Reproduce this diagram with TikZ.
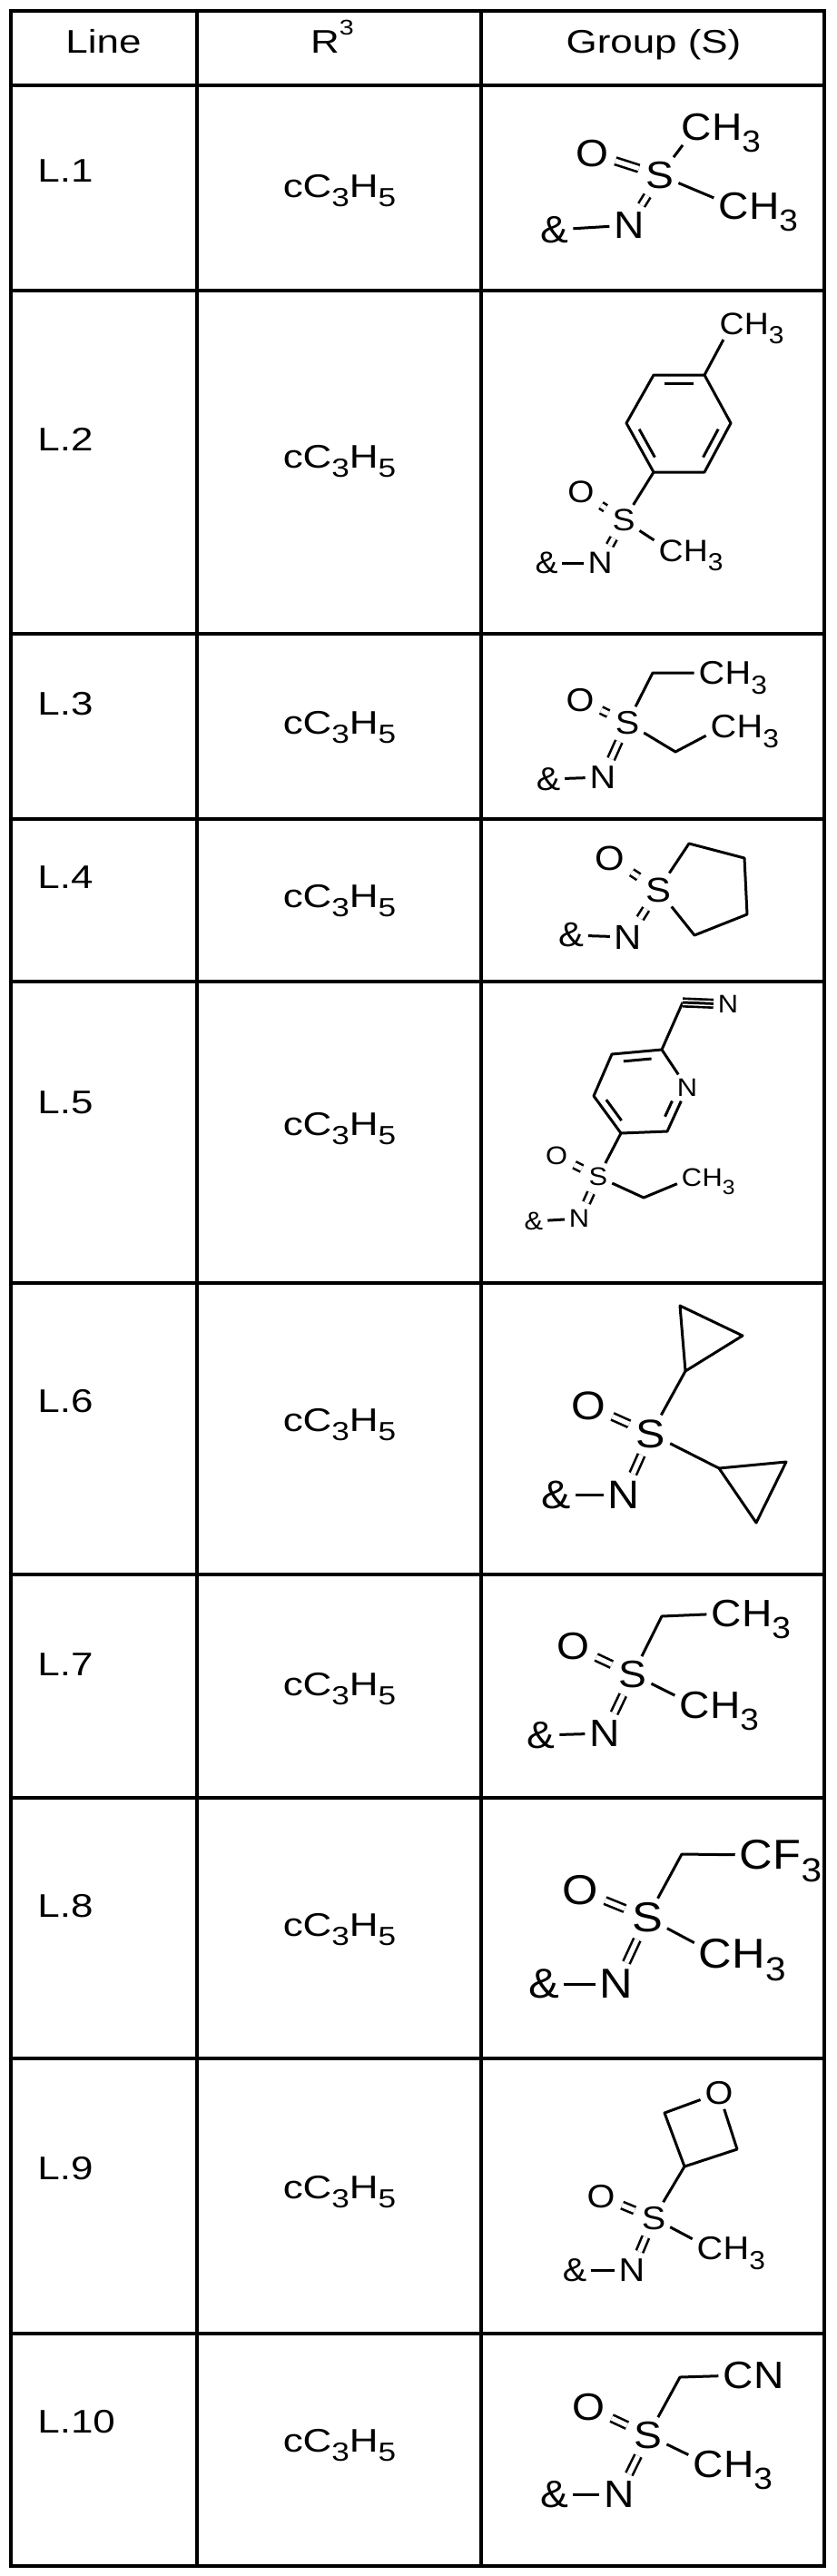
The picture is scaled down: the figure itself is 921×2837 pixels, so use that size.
\documentclass[tikz,border=0pt]{standalone}
\usepackage{fontspec}
\setmainfont{Liberation Sans}
\usetikzlibrary{calc}
\newcommand\cf[1]{\fontsize{#1}{#1}\selectfont}
\newcommand\wx[1]{\scalebox{1.1}[1]{#1}}
\newcommand\wt[1]{\scalebox{1.22}[1]{#1}}
\newcommand\sbs[1]{\raisebox{-0.3em}{\scalebox{0.8}{#1}}}
\newcommand\sps[1]{\raisebox{0.55em}{\scalebox{0.65}{#1}}}
\tikzset{
  grid/.style={line width=1.7pt},
  tab/.style={font=\cf{18}, inner sep=0pt, anchor=base},
  atm/.style={inner sep=2.5pt, outer sep=0pt},
  sfx/.style={anchor=base west, inner sep=0pt},
  bd/.style={line width=1.5pt},
  dbl/.style={double, double distance=2.6pt, line width=1.3pt, shorten <=1.5pt, shorten >=1.5pt},
}
\begin{document}
\begin{tikzpicture}[x=0.5pt,y=-0.5pt]
\useasboundingbox (0,0) rectangle (921,2837);
% grid
\coordinate (tl) at (12,12); \coordinate (br) at (908,2826);
\draw[grid] (tl) rectangle (br);
\foreach \y in {94,320,698,902,1081,1413,1734,1980,2267,2570} \draw[grid] (12,\y) -- (908,\y);
\draw[grid] (217,12) -- (217,2826);
\draw[grid] (530,12) -- (530,2826);
% header
\node[tab] (h1) at (114,58) {\wt{Line}};
\node[tab] (h2) at (366,58) {\wt{R\sps{3}}};
\node[tab] (h3) at (720,58) {\wt{Group (S)}};
% labels
\foreach \n/\yb/\yc in {1/200/217,2/496/515,3/787/808,4/978/999,5/1226/1250,6/1555/1576,7/1845/1867,8/2111/2132,9/2400/2421,10/2679/2700}{
  \node[tab,anchor=base west] (l\n) at (41,\yb) {\wt{L.\n}};
  \node[tab] (r\n) at (374,\yc) {\wt{cC\sbs{3}H\sbs{5}}};
}
% ---------- L.1
\begin{scope}[every node/.append style={font=\cf{21}}]
\node[atm] (o1) at (652,169) {\wx{O}};
\node[atm] (s1) at (727,193) {\wx{S}};
\node[atm] (n1) at (693,248) {\wx{N}};
\node[atm] (a1) at (611,253) {\wx{\&}};
\node[atm] (c1a) at (767,140) {\wx{C}};
\node[sfx] (h1a) at ([xshift=-2.5pt]c1a.base east) {\wx{H\sbs{3}}};
\node[atm] (c1b) at (808,227) {\wx{C}};
\node[sfx] (h1b) at ([xshift=-2.5pt]c1b.base east) {\wx{H\sbs{3}}};
\draw[bd] (a1) -- (n1);
\draw[dbl] (o1) -- (s1);
\draw[dbl] (s1) -- (n1);
\draw[bd] (s1) -- (c1a);
\draw[bd] (s1) -- (c1b);
\end{scope}
% ---------- L.2
\begin{scope}[every node/.append style={font=\cf{17}}]
\coordinate (q1) at (776,413); \coordinate (q2) at (720,413); \coordinate (q3) at (690,466);
\coordinate (q4) at (720,520); \coordinate (q5) at (776,520); \coordinate (q6) at (805,466);
\coordinate (qc) at (748,466);
\draw[bd,line join=round] (q1) -- (q2) -- (q3) -- (q4) -- (q5) -- (q6) -- cycle;
\draw[bd] ($(q2)!0.15!(q1)!0.18!(qc)$) -- ($(q1)!0.15!(q2)!0.18!(qc)$);
\draw[bd] ($(q3)!0.15!(q4)!0.18!(qc)$) -- ($(q4)!0.15!(q3)!0.18!(qc)$);
\draw[bd] ($(q6)!0.15!(q5)!0.18!(qc)$) -- ($(q5)!0.15!(q6)!0.18!(qc)$);
\node[atm] (c2a) at (806,357) {\wx{C}};
\node[sfx] (h2a) at ([xshift=-2.5pt]c2a.base east) {\wx{H\sbs{3}}};
\draw[bd] (q1) -- (c2a);
\node[atm] (s2) at (687,573) {\wx{S}};
\node[atm] (o2) at (640,542) {\wx{O}};
\node[atm] (n2) at (661,620) {\wx{N}};
\node[atm] (a2) at (602,620) {\wx{\&}};
\node[atm] (c2b) at (739,607) {\wx{C}};
\node[sfx] (h2b) at ([xshift=-2.5pt]c2b.base east) {\wx{H\sbs{3}}};
\draw[bd] (q4) -- (s2);
\draw[bd] (a2) -- (n2);
\draw[dbl] (o2) -- (s2);
\draw[dbl] (s2) -- (n2);
\draw[bd] (s2) -- (c2b);
\end{scope}
% ---------- L.3
\begin{scope}[every node/.append style={font=\cf{18}}]
\node[atm] (o3) at (639,771) {\wx{O}};
\node[atm] (s3) at (691,796) {\wx{S}};
\node[atm] (n3) at (664,856) {\wx{N}};
\node[atm] (a3) at (604,858) {\wx{\&}};
\coordinate (k3a) at (719,741);
\coordinate (k3b) at (744,828);
\node[atm] (c3a) at (784,741) {\wx{C}};
\node[sfx] (h3a) at ([xshift=-2.5pt]c3a.base east) {\wx{H\sbs{3}}};
\node[atm] (c3b) at (797,800) {\wx{C}};
\node[sfx] (h3b) at ([xshift=-2.5pt]c3b.base east) {\wx{H\sbs{3}}};
\draw[bd] (a3) -- (n3);
\draw[dbl] (o3) -- (s3);
\draw[dbl] (s3) -- (n3);
\draw[bd,line join=round] (s3) -- (k3a) -- (c3a);
\draw[bd,line join=round] (s3) -- (k3b) -- (c3b);
\end{scope}
% ---------- L.4
\begin{scope}[every node/.append style={font=\cf{19}}]
\node[atm] (o4) at (672,945) {\wx{O}};
\node[atm] (s4) at (725,980) {\wx{S}};
\node[atm] (n4) at (692,1032) {\wx{N}};
\node[atm] (a4) at (629,1030) {\wx{\&}};
\coordinate (p1) at (759,929); \coordinate (p2) at (820,945);
\coordinate (p3) at (823,1007); \coordinate (p4) at (765,1030);
\draw[bd] (a4) -- (n4);
\draw[dbl] (o4) -- (s4);
\draw[dbl] (s4) -- (n4);
\draw[bd,line join=round] (s4) -- (p1) -- (p2) -- (p3) -- (p4) -- (s4);
\end{scope}
% ---------- L.5
\begin{scope}[every node/.append style={font=\cf{14}}]
\coordinate (y2) at (729,1156); \coordinate (y3) at (674,1161); \coordinate (y4) at (654,1207);
\coordinate (y5) at (684,1248); \coordinate (y6) at (735,1246);
\node[atm] (y1) at (757,1198) {\wx{N}};
\coordinate (yc) at (705,1203);
\draw[bd,line join=round] (y1) -- (y2) -- (y3) -- (y4) -- (y5) -- (y6) -- (y1);
\draw[bd] ($(y2)!0.15!(y3)!0.2!(yc)$) -- ($(y3)!0.15!(y2)!0.2!(yc)$);
\draw[bd] ($(y4)!0.15!(y5)!0.2!(yc)$) -- ($(y5)!0.15!(y4)!0.2!(yc)$);
\draw[bd] ($(y6)!0.2!(y1)!0.2!(yc)$) -- ($(y1)!0.35!(y6)!0.2!(yc)$);
\coordinate (cn5) at (752,1104);
\node[atm] (nn5) at (802,1106) {\wx{N}};
\draw[bd] (y2) -- (cn5);
\draw[double, double distance=3pt, line width=1.3pt] (cn5) -- (nn5);
\draw[bd] (cn5) -- (nn5);
\node[atm] (s5) at (659,1296) {\wx{S}};
\node[atm] (o5) at (613,1273) {\wx{O}};
\node[atm] (n5) at (638,1342) {\wx{N}};
\node[atm] (a5) at (588,1345) {\wx{\&}};
\coordinate (k5) at (709,1319);
\node[atm] (c5) at (762,1297) {\wx{C}};
\node[sfx] (h5) at ([xshift=-2.5pt]c5.base east) {\wx{H\sbs{3}}};
\draw[bd] (y5) -- (s5);
\draw[bd] (a5) -- (n5);
\draw[dbl] (o5) -- (s5);
\draw[dbl] (s5) -- (n5);
\draw[bd,line join=round] (s5) -- (k5) -- (c5);
\end{scope}
% ---------- L.6
\begin{scope}[every node/.append style={font=\cf{22}}]
\node[atm] (o6) at (648,1548) {\wx{O}};
\node[atm] (s6) at (717,1579) {\wx{S}};
\node[atm] (n6) at (687,1646) {\wx{N}};
\node[atm] (a6) at (613,1646) {\wx{\&}};
\coordinate (u1) at (755,1510); \coordinate (u2) at (749,1438); \coordinate (u3) at (818,1471);
\coordinate (v1) at (792,1617); \coordinate (v2) at (866,1610); \coordinate (v3) at (833,1677);
\draw[bd] (a6) -- (n6);
\draw[dbl] (o6) -- (s6);
\draw[dbl] (s6) -- (n6);
\draw[bd] (s6) -- (u1);
\draw[bd,line join=round] (u1) -- (u2) -- (u3) -- cycle;
\draw[bd] (s6) -- (v1);
\draw[bd,line join=round] (v1) -- (v2) -- (v3) -- cycle;
\end{scope}
% ---------- L.7
\begin{scope}[every node/.append style={font=\cf{21}}]
\node[atm] (o7) at (631,1813) {\wx{O}};
\node[atm] (s7) at (697,1844) {\wx{S}};
\node[atm] (n7) at (666,1909) {\wx{N}};
\node[atm] (a7) at (596,1911) {\wx{\&}};
\coordinate (k7) at (729,1780);
\node[atm] (c7a) at (800,1777) {\wx{C}};
\node[sfx] (h7a) at ([xshift=-2.5pt]c7a.base east) {\wx{H\sbs{3}}};
\node[atm] (c7b) at (765,1878) {\wx{C}};
\node[sfx] (h7b) at ([xshift=-2.5pt]c7b.base east) {\wx{H\sbs{3}}};
\draw[bd] (a7) -- (n7);
\draw[dbl] (o7) -- (s7);
\draw[dbl] (s7) -- (n7);
\draw[bd,line join=round] (s7) -- (k7) -- (c7a);
\draw[bd] (s7) -- (c7b);
\end{scope}
% ---------- L.8
\begin{scope}[every node/.append style={font=\cf{23}}]
\node[atm] (o8) at (639,2082) {\wx{O}};
\node[atm] (s8) at (713,2112) {\wx{S}};
\node[atm] (n8) at (679,2185) {\wx{N}};
\node[atm] (a8) at (599,2185) {\wx{\&}};
\coordinate (k8) at (751,2042);
\node[atm] (c8a) at (833,2043) {\wx{C}};
\node[sfx] (h8a) at ([xshift=-2.5pt]c8a.base east) {\wx{F\sbs{3}}};
\node[atm] (c8b) at (788,2152) {\wx{C}};
\node[sfx] (h8b) at ([xshift=-2.5pt]c8b.base east) {\wx{H\sbs{3}}};
\draw[bd] (a8) -- (n8);
\draw[dbl] (o8) -- (s8);
\draw[dbl] (s8) -- (n8);
\draw[bd,line join=round] (s8) -- (k8) -- (c8a);
\draw[bd] (s8) -- (c8b);
\end{scope}
% ---------- L.9
\begin{scope}[every node/.append style={font=\cf{18}}]
\node[atm] (o9) at (662,2419) {\wx{O}};
\node[atm] (s9) at (720,2443) {\wx{S}};
\node[atm] (n9) at (696,2500) {\wx{N}};
\node[atm] (a9) at (633,2500) {\wx{\&}};
\coordinate (z1) at (754,2386); \coordinate (z2) at (732,2327); \coordinate (z4) at (812,2367);
\node[atm] (zo) at (792,2305) {\wx{O}};
\node[atm] (c9) at (782,2476) {\wx{C}};
\node[sfx] (h9) at ([xshift=-2.5pt]c9.base east) {\wx{H\sbs{3}}};
\draw[bd] (a9) -- (n9);
\draw[dbl] (o9) -- (s9);
\draw[dbl] (s9) -- (n9);
\draw[bd] (s9) -- (z1);
\draw[bd,line join=round] (zo) -- (z2) -- (z1) -- (z4) -- (zo);
\draw[bd] (s9) -- (c9);
\end{scope}
% ---------- L.10
\begin{scope}[every node/.append style={font=\cf{21}}]
\node[atm] (o10) at (648,2651) {\wx{O}};
\node[atm] (s10) at (714,2682) {\wx{S}};
\node[atm] (n10) at (682,2747) {\wx{N}};
\node[atm] (a10) at (611,2747) {\wx{\&}};
\coordinate (k10) at (749,2618);
\node[atm] (c10a) at (813,2616) {\wx{C}};
\node[sfx] (h10a) at ([xshift=-2.5pt]c10a.base east) {\wx{N}};
\node[atm] (c10b) at (780,2714) {\wx{C}};
\node[sfx] (h10b) at ([xshift=-2.5pt]c10b.base east) {\wx{H\sbs{3}}};
\draw[bd] (a10) -- (n10);
\draw[dbl] (o10) -- (s10);
\draw[dbl] (s10) -- (n10);
\draw[bd,line join=round] (s10) -- (k10) -- (c10a);
\draw[bd] (s10) -- (c10b);
\end{scope}
\end{tikzpicture}
\end{document}
